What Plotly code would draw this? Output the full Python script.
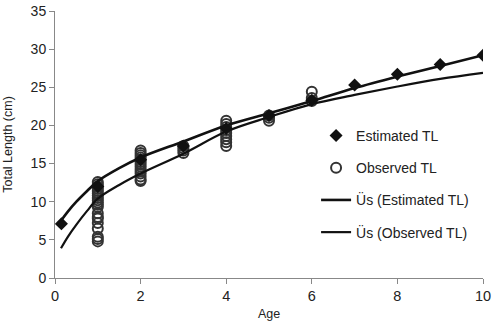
import plotly.graph_objects as go

# Estimated TL (diamonds)
est_age = [0.15, 1, 2, 3, 4, 5, 6, 7, 8, 9, 10]
est_tl = [7.1, 12.0, 15.5, 17.3, 19.6, 21.3, 23.3, 25.3, 26.7, 28.0, 29.2]

# Observed TL (open circles)
obs_age = ([1] * 20 + [2] * 14 + [3] * 4 + [4] * 9 + [5] * 3 + [6] * 3)
obs_tl = ([12.6, 12.3, 12.0, 11.7, 11.4, 11.1, 10.8, 10.5, 10.2, 9.9, 9.6, 9.3,
           8.5, 8.0, 7.8, 7.2, 6.5, 5.4, 5.1, 4.8] +
          [16.7, 16.4, 16.1, 15.8, 15.5, 15.2, 14.9, 14.6, 14.3, 14.0, 13.7, 13.3, 12.9, 12.7] +
          [17.3, 17.0, 16.7, 16.4] +
          [20.6, 20.2, 19.8, 19.4, 19.0, 18.6, 18.2, 17.8, 17.3] +
          [21.3, 21.0, 20.6] +
          [24.4, 23.6, 23.2])

# Power trend curves
curve_age = [0.14, 0.3, 0.5, 0.75, 1, 1.5, 2, 3, 4, 5, 6, 7, 8, 9, 10]
curve_est = [7.5, 8.7, 10.0, 11.4, 12.7, 14.4, 15.8, 17.9, 20.0, 21.6, 23.2, 24.9, 26.4, 27.8, 29.2]
curve_obs = [3.9, 5.4, 7.0, 8.8, 10.4, 12.2, 13.7, 16.3, 19.2, 21.1, 22.8, 24.0, 25.1, 26.1, 26.9]

x_ticks = [0, 2, 4, 6, 8, 10]
y_ticks = [0, 5, 10, 15, 20, 25, 30, 35]

fig = go.Figure()
fig.add_trace(go.Scatter(
    x=obs_age, y=obs_tl, mode="markers", name="Observed TL",
    marker=dict(symbol="circle-open", size=10, color="#333", line=dict(width=2)),
    legendgroup="b", legendrank=2))
fig.add_trace(go.Scatter(
    x=est_age, y=est_tl, mode="markers", name="Estimated TL",
    marker=dict(symbol="diamond", size=10, color="#111"),
    legendgroup="a", legendrank=1))
fig.add_trace(go.Scatter(
    x=curve_age, y=curve_est, mode="lines", name="Üs (Estimated TL)",
    line=dict(color="#111", width=2.6, shape="spline"),
    legendgroup="c", legendrank=3))
fig.add_trace(go.Scatter(
    x=curve_age, y=curve_obs, mode="lines", name="Üs (Observed TL)",
    line=dict(color="#111", width=2.2, shape="spline"),
    legendgroup="d", legendrank=4))

fig.update_layout(
    width=497, height=321,
    margin=dict(l=55, r=14, t=11, b=43, autoexpand=False),
    paper_bgcolor="white", plot_bgcolor="white",
    font=dict(family="Liberation Sans, Arial, sans-serif", color="#222"),
    legend=dict(x=0.610, y=0.592, xanchor="left", yanchor="top",
                font=dict(size=14, color="#222"), tracegroupgap=11,
                bgcolor="rgba(0,0,0,0)"),
    showlegend=True,
)
fig.update_xaxes(range=[0, 10], tickvals=x_ticks, showgrid=False, zeroline=False,
                 showline=True, linecolor="#888", linewidth=1, automargin=False,
                 ticks="outside", ticklen=5, tickcolor="#888",
                 tickfont=dict(size=14.5, color="#222"),
                 title=dict(text="Age", font=dict(size=12.5), standoff=12))
fig.update_yaxes(range=[0, 35], tickvals=y_ticks, showgrid=False, zeroline=False,
                 showline=True, linecolor="#888", linewidth=1, automargin=False,
                 ticks="outside", ticklen=5, tickcolor="#888",
                 tickfont=dict(size=14, color="#222"),
                 title=dict(text="Total Length (cm)", font=dict(size=12.5), standoff=15))

fig.write_html("out.html")
